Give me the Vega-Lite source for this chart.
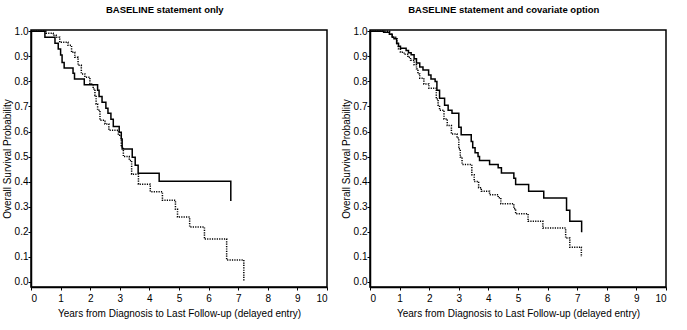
{
  "$schema": "https://vega.github.io/schema/vega-lite/v6.json",
  "padding": {"left": 1, "top": 4, "right": 5, "bottom": 5},
  "background": "white",
  "spacing": 43,
  "bounds": "flush",
  "config": {
    "font": "Liberation Sans",
    "view": {"stroke": "black", "strokeWidth": 1.5},
    "axis": {
      "domainColor": "black", "domainWidth": 1.5, "tickColor": "black", "tickSize": 3,
      "labelColor": "black", "labelFont": "Liberation Sans", "labelFontSize": 10,
      "titleColor": "black", "titleFont": "Liberation Sans", "titleFontSize": 10, "titleFontWeight": "normal",
      "grid": false
    },
    "title": {"font": "Liberation Sans", "fontSize": 9.5, "fontWeight": "bold", "color": "black", "anchor": "middle", "frame": "bounds", "offset": 12}
  },
  "datasets": {
    "left": [
      {"group": "solid", "t": 0, "s": 1.0},
      {"group": "solid", "t": 0.47, "s": 0.976},
      {"group": "solid", "t": 0.81, "s": 0.952},
      {"group": "solid", "t": 0.92, "s": 0.929},
      {"group": "solid", "t": 1.0, "s": 0.905},
      {"group": "solid", "t": 1.05, "s": 0.875},
      {"group": "solid", "t": 1.12, "s": 0.853},
      {"group": "solid", "t": 1.42, "s": 0.833},
      {"group": "solid", "t": 1.47, "s": 0.81},
      {"group": "solid", "t": 1.8, "s": 0.787},
      {"group": "solid", "t": 2.25, "s": 0.765},
      {"group": "solid", "t": 2.3, "s": 0.74},
      {"group": "solid", "t": 2.4, "s": 0.717},
      {"group": "solid", "t": 2.53, "s": 0.693},
      {"group": "solid", "t": 2.6, "s": 0.673},
      {"group": "solid", "t": 2.7, "s": 0.649},
      {"group": "solid", "t": 2.78, "s": 0.62},
      {"group": "solid", "t": 2.98, "s": 0.597},
      {"group": "solid", "t": 3.05, "s": 0.57},
      {"group": "solid", "t": 3.08, "s": 0.53},
      {"group": "solid", "t": 3.42, "s": 0.497},
      {"group": "solid", "t": 3.52, "s": 0.466},
      {"group": "solid", "t": 3.62, "s": 0.434},
      {"group": "solid", "t": 4.33, "s": 0.402},
      {"group": "solid", "t": 6.75, "s": 0.323},
      {"group": "dotted", "t": 0, "s": 1.0},
      {"group": "dotted", "t": 0.5, "s": 0.992},
      {"group": "dotted", "t": 0.75, "s": 0.984},
      {"group": "dotted", "t": 0.85, "s": 0.976},
      {"group": "dotted", "t": 0.97, "s": 0.956},
      {"group": "dotted", "t": 1.25, "s": 0.944},
      {"group": "dotted", "t": 1.37, "s": 0.916},
      {"group": "dotted", "t": 1.48, "s": 0.896},
      {"group": "dotted", "t": 1.59, "s": 0.864},
      {"group": "dotted", "t": 1.7, "s": 0.83},
      {"group": "dotted", "t": 1.82, "s": 0.817},
      {"group": "dotted", "t": 1.99, "s": 0.79},
      {"group": "dotted", "t": 2.1, "s": 0.77},
      {"group": "dotted", "t": 2.16, "s": 0.744},
      {"group": "dotted", "t": 2.2, "s": 0.71},
      {"group": "dotted", "t": 2.25, "s": 0.685},
      {"group": "dotted", "t": 2.33, "s": 0.645},
      {"group": "dotted", "t": 2.5, "s": 0.63},
      {"group": "dotted", "t": 2.63, "s": 0.605},
      {"group": "dotted", "t": 2.95, "s": 0.585},
      {"group": "dotted", "t": 3.05, "s": 0.538},
      {"group": "dotted", "t": 3.12, "s": 0.5},
      {"group": "dotted", "t": 3.32, "s": 0.485},
      {"group": "dotted", "t": 3.4, "s": 0.43},
      {"group": "dotted", "t": 3.63, "s": 0.39},
      {"group": "dotted", "t": 4.03, "s": 0.36},
      {"group": "dotted", "t": 4.44, "s": 0.326},
      {"group": "dotted", "t": 4.88, "s": 0.29},
      {"group": "dotted", "t": 4.95, "s": 0.259},
      {"group": "dotted", "t": 5.36, "s": 0.219},
      {"group": "dotted", "t": 5.86, "s": 0.171},
      {"group": "dotted", "t": 6.61, "s": 0.088},
      {"group": "dotted", "t": 7.19, "s": 0.004}
    ],
    "right": [
      {"group": "solid", "t": 0, "s": 1.0},
      {"group": "solid", "t": 0.46, "s": 0.996},
      {"group": "solid", "t": 0.66, "s": 0.988},
      {"group": "solid", "t": 0.75, "s": 0.976},
      {"group": "solid", "t": 0.81, "s": 0.97},
      {"group": "solid", "t": 0.9, "s": 0.952},
      {"group": "solid", "t": 0.96, "s": 0.94},
      {"group": "solid", "t": 1.03, "s": 0.932},
      {"group": "solid", "t": 1.22, "s": 0.923},
      {"group": "solid", "t": 1.3, "s": 0.914},
      {"group": "solid", "t": 1.39, "s": 0.906},
      {"group": "solid", "t": 1.49, "s": 0.89},
      {"group": "solid", "t": 1.57, "s": 0.873},
      {"group": "solid", "t": 1.68, "s": 0.857},
      {"group": "solid", "t": 1.79, "s": 0.845},
      {"group": "solid", "t": 1.98, "s": 0.826},
      {"group": "solid", "t": 2.06, "s": 0.81},
      {"group": "solid", "t": 2.2, "s": 0.8},
      {"group": "solid", "t": 2.26, "s": 0.765},
      {"group": "solid", "t": 2.35, "s": 0.733},
      {"group": "solid", "t": 2.52, "s": 0.705},
      {"group": "solid", "t": 2.64, "s": 0.685},
      {"group": "solid", "t": 2.77, "s": 0.673},
      {"group": "solid", "t": 3.0, "s": 0.617},
      {"group": "solid", "t": 3.08, "s": 0.587},
      {"group": "solid", "t": 3.42, "s": 0.56},
      {"group": "solid", "t": 3.47, "s": 0.535},
      {"group": "solid", "t": 3.55, "s": 0.515},
      {"group": "solid", "t": 3.65, "s": 0.5},
      {"group": "solid", "t": 3.7, "s": 0.485},
      {"group": "solid", "t": 4.04, "s": 0.469},
      {"group": "solid", "t": 4.33, "s": 0.456},
      {"group": "solid", "t": 4.44, "s": 0.435},
      {"group": "solid", "t": 4.86, "s": 0.414},
      {"group": "solid", "t": 4.92, "s": 0.389},
      {"group": "solid", "t": 5.36, "s": 0.362},
      {"group": "solid", "t": 5.87, "s": 0.335},
      {"group": "solid", "t": 6.64, "s": 0.286},
      {"group": "solid", "t": 6.75, "s": 0.242},
      {"group": "solid", "t": 7.15, "s": 0.198},
      {"group": "dotted", "t": 0, "s": 1.0},
      {"group": "dotted", "t": 0.66, "s": 0.988},
      {"group": "dotted", "t": 0.75, "s": 0.976},
      {"group": "dotted", "t": 0.91, "s": 0.95},
      {"group": "dotted", "t": 0.96, "s": 0.93},
      {"group": "dotted", "t": 1.03, "s": 0.916},
      {"group": "dotted", "t": 1.15, "s": 0.908},
      {"group": "dotted", "t": 1.28, "s": 0.896},
      {"group": "dotted", "t": 1.37, "s": 0.884},
      {"group": "dotted", "t": 1.49, "s": 0.866},
      {"group": "dotted", "t": 1.57, "s": 0.85},
      {"group": "dotted", "t": 1.62, "s": 0.83},
      {"group": "dotted", "t": 1.68, "s": 0.813},
      {"group": "dotted", "t": 1.82, "s": 0.79},
      {"group": "dotted", "t": 1.99, "s": 0.773},
      {"group": "dotted", "t": 2.24, "s": 0.73},
      {"group": "dotted", "t": 2.3, "s": 0.705},
      {"group": "dotted", "t": 2.35, "s": 0.685},
      {"group": "dotted", "t": 2.5, "s": 0.65},
      {"group": "dotted", "t": 2.61, "s": 0.624},
      {"group": "dotted", "t": 2.75, "s": 0.59},
      {"group": "dotted", "t": 2.94, "s": 0.574},
      {"group": "dotted", "t": 3.0, "s": 0.531},
      {"group": "dotted", "t": 3.05, "s": 0.498},
      {"group": "dotted", "t": 3.11, "s": 0.469},
      {"group": "dotted", "t": 3.44, "s": 0.428},
      {"group": "dotted", "t": 3.52, "s": 0.401},
      {"group": "dotted", "t": 3.67, "s": 0.376},
      {"group": "dotted", "t": 3.76, "s": 0.362},
      {"group": "dotted", "t": 4.04, "s": 0.348},
      {"group": "dotted", "t": 4.33, "s": 0.336},
      {"group": "dotted", "t": 4.42, "s": 0.312},
      {"group": "dotted", "t": 4.86, "s": 0.292},
      {"group": "dotted", "t": 4.92, "s": 0.272},
      {"group": "dotted", "t": 5.34, "s": 0.242},
      {"group": "dotted", "t": 5.84, "s": 0.215},
      {"group": "dotted", "t": 6.61, "s": 0.175},
      {"group": "dotted", "t": 6.75, "s": 0.139},
      {"group": "dotted", "t": 7.14, "s": 0.1}
    ]
  },
  "hconcat": [
    {
      "title": "BASELINE statement only",
      "width": 296,
      "height": 257,
      "data": {"name": "left"},
      "mark": {"type": "line", "interpolate": "step-after", "color": "black", "strokeWidth": 1.5},
      "encoding": {
        "x": {"field": "t", "type": "quantitative", "scale": {"domain": [0, 10], "nice": false, "zero": false},
              "axis": {"values": [0,1,2,3,4,5,6,7,8,9,10], "format": "d", "title": "Years from Diagnosis to Last Follow-up (delayed entry)", "labelPadding": 3, "titlePadding": 5}},
        "y": {"field": "s", "type": "quantitative", "scale": {"domain": [-0.02, 1.005], "nice": false, "zero": false},
              "axis": {"values": [0,0.1,0.2,0.3,0.4,0.5,0.6,0.7,0.8,0.9,1.0], "format": ".1f", "title": "Overall Survival Probability", "labelPadding": 0, "titlePadding": 2}},
        "strokeDash": {"field": "group", "type": "nominal", "scale": {"domain": ["solid", "dotted"], "range": [[1, 0], [1.2, 1.2]]}, "legend": null}
      }
    },
    {
      "title": "BASELINE statement and covariate option",
      "width": 296,
      "height": 257,
      "data": {"name": "right"},
      "mark": {"type": "line", "interpolate": "step-after", "color": "black", "strokeWidth": 1.5},
      "encoding": {
        "x": {"field": "t", "type": "quantitative", "scale": {"domain": [0, 10], "nice": false, "zero": false},
              "axis": {"values": [0,1,2,3,4,5,6,7,8,9,10], "format": "d", "title": "Years from Diagnosis to Last Follow-up (delayed entry)", "labelPadding": 3, "titlePadding": 5}},
        "y": {"field": "s", "type": "quantitative", "scale": {"domain": [-0.02, 1.005], "nice": false, "zero": false},
              "axis": {"values": [0,0.1,0.2,0.3,0.4,0.5,0.6,0.7,0.8,0.9,1.0], "format": ".1f", "title": "Overall Survival Probability", "labelPadding": 0, "titlePadding": 2}},
        "strokeDash": {"field": "group", "type": "nominal", "scale": {"domain": ["solid", "dotted"], "range": [[1, 0], [1.2, 1.2]]}, "legend": null}
      }
    }
  ]
}
